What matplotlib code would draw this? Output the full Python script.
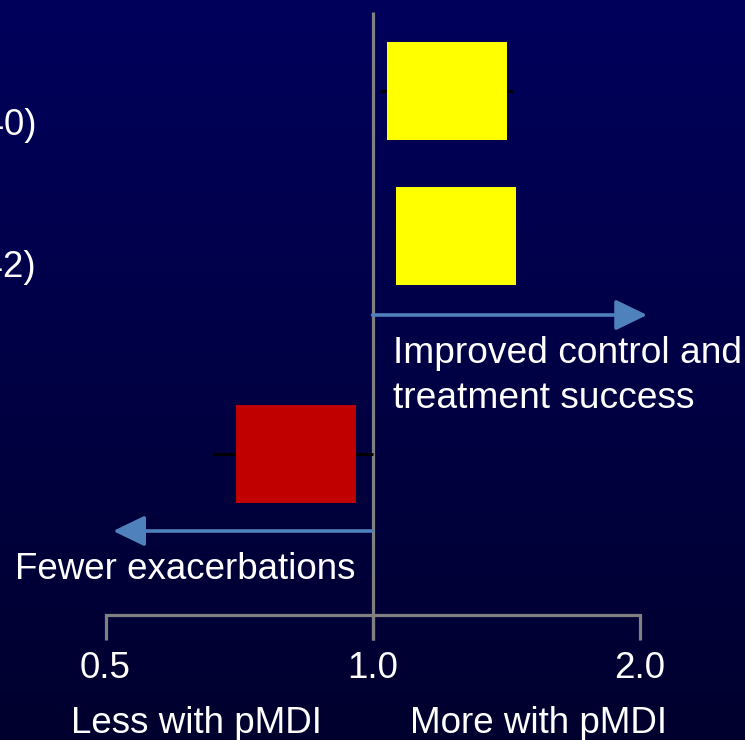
import numpy as np
import matplotlib
matplotlib.use("Agg")
import matplotlib.pyplot as plt
from matplotlib.path import Path
from matplotlib.colors import LinearSegmentedColormap

plt.rcParams['font.family'] = ['Liberation Sans', 'DejaVu Sans']

# ---- data ----
row_labels = ["Asthma control (n = 40)", "Treatment success (n = 42)", "Exacerbations"]
rows = [0.0, 1.0, 2.5]
estimates = [1.213, 1.242, 0.819]
ci_low = [1.02, 1.10, 0.661]
ci_high = [1.44, 1.40, 1.0]
box_colors = ["#FFFF00", "#FFFF00", "#C00000"]
tick_values = [0.5, 1.0, 2.0]
tick_labels = ["0.5", "1.0", "2.0"]
direction_labels = ["Less with pMDI", "More with pMDI"]
arrow_ends = [2.04, 0.51]
arrow_texts = ["Improved control and", "treatment success", "Fewer exacerbations"]

W, H, DPI = 745, 740, 100
fig = plt.figure(figsize=(W / DPI, H / DPI), dpi=DPI)

# background gradient
bg = fig.add_axes([0, 0, 1, 1], zorder=0)
cmap = LinearSegmentedColormap.from_list("bg", ["#00005C", "#00002E"])
bg.imshow(np.linspace(0, 1, 256).reshape(-1, 1), aspect='auto', cmap=cmap,
          extent=[0, 1, 0, 1], origin='upper')
bg.set_axis_off()

ax = fig.add_axes([0, 0, 1, 1], zorder=1)
ax.patch.set_alpha(0)
ax.set_axis_off()
ax.set_xscale('log', base=2)

# pixel-based layout helpers
px_per_oct = 267.0
x10 = 372.5
def px_to_x(px):
    return 2 ** ((px - x10) / px_per_oct)
row_px0, px_per_row = 91.0, 145.0
def py_to_y(py):
    return (py - row_px0) / px_per_row

ax.set_xlim(px_to_x(0), px_to_x(W))
ax.set_ylim(py_to_y(H), py_to_y(0))

grey = "#808080"
# vertical line of no effect
ax.plot([1.0, 1.0], [py_to_y(12), py_to_y(640)], color=grey, lw=2.3,
        solid_capstyle='butt', zorder=2)
# horizontal axis
ax.plot([tick_values[0], tick_values[-1]], [py_to_y(615)] * 2, color=grey,
        lw=2.3, solid_capstyle='projecting', zorder=2)
for tv, tl in zip(tick_values, tick_labels):
    ax.plot([tv, tv], [py_to_y(615), py_to_y(640)], color=grey, lw=2.3,
            solid_capstyle='butt', zorder=2)
    ax.text(tv, py_to_y(678), tl, color='white', fontsize=26.5,
            ha='center', va='baseline')

# direction labels
ax.text(px_to_x(196.5), py_to_y(733), direction_labels[0], color='white',
        fontsize=26.5, ha='center', va='baseline')
ax.text(px_to_x(538), py_to_y(733), direction_labels[1], color='white',
        fontsize=26.5, ha='center', va='baseline')

# confidence intervals
est = np.array(estimates)
xerr = [est - np.array(ci_low), np.array(ci_high) - est]
ax.errorbar(est, rows, xerr=xerr, fmt='none', ecolor='black',
            elinewidth=2.2, capsize=0, zorder=3)

# boxes
rect = Path([(-60, -49), (60, -49), (60, 49), (-60, 49), (-60, -49)],
            [Path.MOVETO, Path.LINETO, Path.LINETO, Path.LINETO, Path.CLOSEPOLY])
for e, r, c in zip(estimates, rows, box_colors):
    ax.plot([e], [r], marker=rect, markersize=120 * 72 / DPI,
            markerfacecolor=c, markeredgewidth=0, linestyle='none', zorder=4)

# row labels (clipped at the left edge, as in the reference)
for lab, py in zip(row_labels[:2], [135, 277]):
    ax.text(px_to_x(36), py_to_y(py), lab, color='white', fontsize=26.5,
            ha='right', va='baseline')

# arrows
arrow_col = "#4F81BD"
for tip, py in zip(arrow_ends, [315, 531]):
    ax.annotate('', xy=(tip, py_to_y(py)), xytext=(1.0, py_to_y(py)),
                arrowprops=dict(arrowstyle='-|>,head_length=1.94,head_width=0.94',
                                mutation_scale=10, lw=2.6, color=arrow_col,
                                shrinkA=0, shrinkB=0), zorder=3)

ax.text(px_to_x(393), py_to_y(363), arrow_texts[0], color='white',
        fontsize=26.7, ha='left', va='baseline')
ax.text(px_to_x(393), py_to_y(408), arrow_texts[1], color='white',
        fontsize=26.7, ha='left', va='baseline')
ax.text(px_to_x(15), py_to_y(579), arrow_texts[2], color='white',
        fontsize=26.5, ha='left', va='baseline')

fig.savefig("out.png", dpi=DPI)
